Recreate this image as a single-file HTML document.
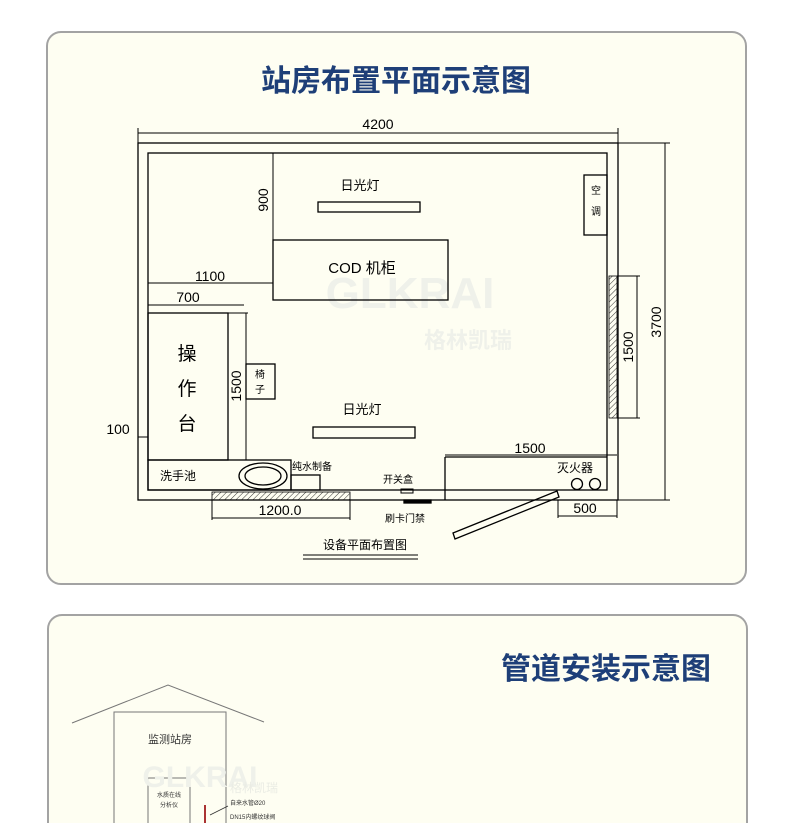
<!DOCTYPE html>
<html><head><meta charset="utf-8"><style>
html,body{margin:0;padding:0;background:#fff;width:790px;height:823px;overflow:hidden;}
svg{display:block}
text{font-family:"Liberation Sans","Noto Sans CJK SC",sans-serif;}
</style></head><body>
<svg width="790" height="823" viewBox="0 0 790 823" xmlns="http://www.w3.org/2000/svg">
<defs>
<pattern id="h" width="4" height="4" patternUnits="userSpaceOnUse" patternTransform="rotate(45)"><line x1="0" y1="0" x2="0" y2="4" stroke="#000" stroke-width="0.8"/></pattern>
</defs>
<rect x="47" y="32" width="699" height="552" rx="14" fill="#fefef2" stroke="#a3a3a3" stroke-width="2"/>
<rect x="48" y="615" width="699" height="240" rx="14" fill="#fefef2" stroke="#a3a3a3" stroke-width="2"/>
<text x="396" y="91" font-size="30" font-weight="bold" fill="#1e3f78" text-anchor="middle" font-family="Noto Sans CJK SC,sans-serif">站房布置平面示意图</text>
<!-- watermark -->
<text x="410" y="308" font-size="44" font-weight="bold" fill="#eff1ea" text-anchor="middle">GLKRAI</text>
<text x="468" y="348" font-size="22" font-weight="bold" fill="#eff1ea" text-anchor="middle" font-family="Noto Sans CJK SC,sans-serif">格林凯瑞</text>
<g stroke="#000" fill="none" stroke-width="1.3">
<rect x="138" y="143" width="480" height="357"/>
<rect x="148" y="153" width="459" height="337"/>
<line x1="138" y1="133" x2="618" y2="133" stroke-width="1"/>
<line x1="138" y1="128" x2="138" y2="143" stroke-width="1"/>
<line x1="618" y1="128" x2="618" y2="143" stroke-width="1"/>
<line x1="665" y1="143" x2="665" y2="500" stroke-width="1"/>
<line x1="618" y1="143" x2="670" y2="143" stroke-width="1"/>
<line x1="618" y1="500" x2="670" y2="500" stroke-width="1"/>
<line x1="273" y1="153" x2="273" y2="240" stroke-width="1"/>
<rect x="318" y="202" width="102" height="10"/>
<rect x="273" y="240" width="175" height="60"/>
<line x1="148" y1="283" x2="273" y2="283" stroke-width="1"/>
<line x1="148" y1="305" x2="244" y2="305" stroke-width="1"/>
<rect x="148" y="313" width="80" height="147"/>
<line x1="246" y1="313" x2="246" y2="460" stroke-width="1"/>
<line x1="228" y1="313" x2="248" y2="313" stroke-width="1"/>
<rect x="246" y="364" width="29" height="35"/>
<rect x="313" y="427" width="102" height="11"/>
<line x1="138" y1="437" x2="148" y2="437" stroke-width="1"/>
<rect x="148" y="460" width="143" height="30"/>
<ellipse cx="263" cy="476" rx="24" ry="13"/>
<ellipse cx="263" cy="476" rx="18" ry="9"/>
<rect x="291" y="475" width="29" height="15"/>
<rect x="401" y="489" width="12" height="4" stroke-width="1"/>
<rect x="404" y="500" width="27" height="3" fill="#000"/>
<line x1="212" y1="518" x2="350" y2="518" stroke-width="1"/>
<line x1="212" y1="500" x2="212" y2="520" stroke-width="1"/>
<line x1="350" y1="500" x2="350" y2="520" stroke-width="1"/>
<polygon points="453,533 557,491 559,497 455,539"/>
<line x1="445" y1="455" x2="617" y2="455" stroke-width="1"/>
<line x1="445" y1="457" x2="445" y2="500"/>
<line x1="445" y1="457" x2="607" y2="457"/>
<circle cx="577" cy="484" r="5.5"/>
<circle cx="595" cy="484" r="5.5"/>
<line x1="558" y1="516" x2="617" y2="516" stroke-width="1"/>
<line x1="558" y1="500" x2="558" y2="518" stroke-width="1"/>
<line x1="617" y1="500" x2="617" y2="518" stroke-width="1"/>
<line x1="637" y1="276" x2="637" y2="418" stroke-width="1"/>
<line x1="617" y1="276" x2="640" y2="276" stroke-width="1"/>
<line x1="617" y1="418" x2="640" y2="418" stroke-width="1"/>
<rect x="584" y="175" width="23" height="60"/>
<line x1="303" y1="555" x2="418" y2="555" stroke-width="1"/>
<line x1="303" y1="559" x2="418" y2="559" stroke-width="1"/>
</g>
<rect x="212" y="492" width="138" height="8" fill="url(#h)" stroke="#000" stroke-width="0.8"/>
<rect x="609" y="276" width="8" height="142" fill="url(#h)" stroke="#000" stroke-width="0.8"/>
<g font-size="14" fill="#000" text-anchor="middle" font-family="Liberation Sans,Noto Sans CJK SC,sans-serif">
<text x="378" y="129">4200</text>
<text x="360" y="190" font-size="13">日光灯</text>
<text x="362" y="273" font-size="15">COD 机柜</text>
<text x="210" y="281">1100</text>
<text x="188" y="302">700</text>
<text x="187" y="360" font-size="19">操</text>
<text x="187" y="395" font-size="19">作</text>
<text x="187" y="430" font-size="19">台</text>
<text x="260" y="378" font-size="10">椅</text>
<text x="260" y="393" font-size="10">子</text>
<text x="118" y="434">100</text>
<text x="362" y="414" font-size="13">日光灯</text>
<text x="178" y="480" font-size="12">洗手池</text>
<text x="312" y="470" font-size="10">纯水制备</text>
<text x="398" y="483" font-size="10">开关盒</text>
<text x="405" y="522" font-size="10">刷卡门禁</text>
<text x="280" y="515">1200.0</text>
<text x="530" y="453">1500</text>
<text x="575" y="472" font-size="12">灭火器</text>
<text x="585" y="513">500</text>
<text x="365" y="549" font-size="12">设备平面布置图</text>
<text x="596" y="194" font-size="10">空</text>
<text x="596" y="215" font-size="10">调</text>
<text transform="translate(268,200) rotate(-90)">900</text>
<text transform="translate(241,386) rotate(-90)">1500</text>
<text transform="translate(633,347) rotate(-90)">1500</text>
<text transform="translate(661,322) rotate(-90)">3700</text>
</g>
<text x="711" y="679" font-size="30" font-weight="bold" fill="#1e3f78" text-anchor="end" font-family="Noto Sans CJK SC,sans-serif">管道安装示意图</text>
<g stroke="#777" fill="none" stroke-width="1">
<polyline points="72,723 168,685 264,722"/>
<rect x="114" y="712" width="112" height="120"/>
<rect x="148" y="778" width="42" height="60"/>
</g>
<line x1="205" y1="805" x2="205" y2="823" stroke="#a33" stroke-width="2"/>
<line x1="210" y1="815" x2="228" y2="806" stroke="#333" stroke-width="0.8"/>
<text x="200" y="787" font-size="30" font-weight="bold" fill="#eff1ea" text-anchor="middle">GLKRAI</text>
<text x="230" y="792" font-size="12" fill="#eaece4" font-family="Noto Sans CJK SC,sans-serif">格林凯瑞</text>
<g fill="#333" font-family="Noto Serif CJK SC,serif">
<text x="170" y="743" font-size="11" text-anchor="middle">监测站房</text>
<text x="169" y="797" font-size="6" text-anchor="middle">水质在线</text>
<text x="169" y="807" font-size="6" text-anchor="middle">分析仪</text>
<text x="230" y="805" font-size="6">自来水管Ø20</text>
<text x="230" y="819" font-size="6">DN15内螺纹球阀</text>
</g>
</svg>
</body></html>
